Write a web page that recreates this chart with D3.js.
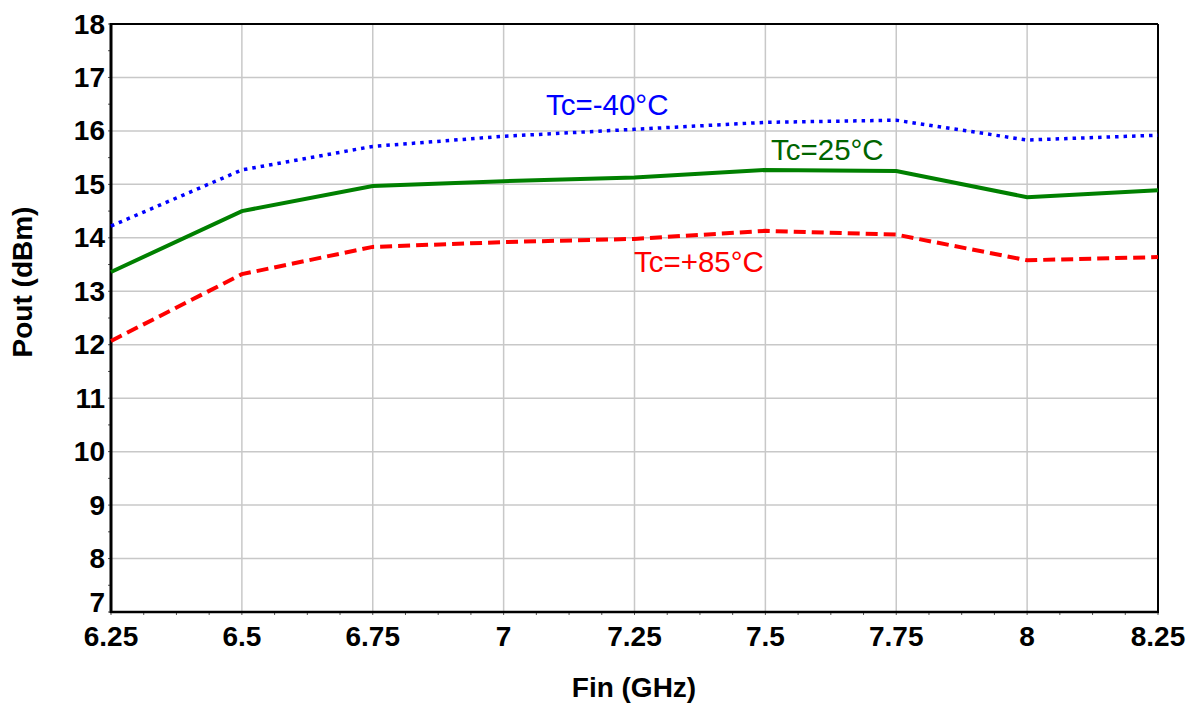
<!DOCTYPE html>
<html><head><meta charset="utf-8">
<script src="https://cdn.jsdelivr.net/npm/d3@7"></script>
<style>body{margin:0;background:#fff}svg{display:block}text{font-family:"Liberation Sans",Arial,sans-serif}</style>
</head><body>
<svg id="c" width="1195" height="706"></svg>
<script>
const freqs = [6.25, 6.5, 6.75, 7.0, 7.25, 7.5, 7.75, 8.0, 8.25];
const tcm40 = [14.22, 15.27, 15.71, 15.90, 16.03, 16.16, 16.20, 15.83, 15.92];
const tc25  = [13.36, 14.50, 14.97, 15.06, 15.13, 15.27, 15.25, 14.76, 14.89];
const tc85  = [12.07, 13.32, 13.83, 13.92, 13.98, 14.13, 14.06, 13.58, 13.64];
const xTicks = [6.25, 6.5, 6.75, 7, 7.25, 7.5, 7.75, 8, 8.25];
const xTickLabels = ["6.25","6.5","6.75","7","7.25","7.5","7.75","8","8.25"];
const yTicks = [7,8,9,10,11,12,13,14,15,16,17,18];
const seriesNames = ["Tc=-40°C", "Tc=25°C", "Tc=+85°C"];

const svg = d3.select("#c");
const L = 111, R = 1158, T = 24, B = 612;
const x = d3.scaleLinear().domain([6.25, 8.25]).range([L, R]);
const y = d3.scaleLinear().domain([7, 18]).range([B, T]);

// grid
const g = svg.append("g");
g.selectAll(".vg").data(xTicks.slice(1, -1)).join("line")
  .attr("x1", d => x(d)).attr("x2", d => x(d)).attr("y1", T).attr("y2", B)
  .attr("stroke", "#c8c8c8").attr("stroke-width", 1.5);
g.selectAll(".hg").data(yTicks.slice(1, -1)).join("line")
  .attr("y1", d => y(d)).attr("y2", d => y(d)).attr("x1", L).attr("x2", R)
  .attr("stroke", "#c8c8c8").attr("stroke-width", 1.5);

// minor ticks
const xMinor = d3.range(0, 33).map(i => 6.25 + i * 0.0625);
svg.append("g").selectAll("line").data(xMinor).join("line")
  .attr("x1", d => x(d)).attr("x2", d => x(d)).attr("y1", B).attr("y2", B + 3)
  .attr("stroke", "#555").attr("stroke-width", 1);
const yMinor = d3.range(0, 23).map(i => 7 + i * 0.5);
svg.append("g").selectAll("line").data(yMinor).join("line")
  .attr("y1", d => y(d)).attr("y2", d => y(d)).attr("x1", L - 3).attr("x2", L)
  .attr("stroke", "#555").attr("stroke-width", 1);

// border
svg.append("line").attr("x1", L).attr("x2", R).attr("y1", T).attr("y2", T).attr("stroke", "#000").attr("stroke-width", 2);
svg.append("line").attr("x1", R).attr("x2", R).attr("y1", T).attr("y2", B).attr("stroke", "#000").attr("stroke-width", 2);
svg.append("line").attr("x1", L - 1).attr("x2", R + 1).attr("y1", B).attr("y2", B).attr("stroke", "#000").attr("stroke-width", 2.5);
svg.append("line").attr("x1", L).attr("x2", L).attr("y1", T - 1).attr("y2", B + 1).attr("stroke", "#000").attr("stroke-width", 3);

// tick labels
svg.append("g").selectAll("text").data(xTicks).join("text")
  .attr("x", d => x(d)).attr("y", 646).attr("text-anchor", "middle")
  .attr("font-size", 28).attr("font-weight", "bold").attr("fill", "#000")
  .text((d, i) => xTickLabels[i]);
svg.append("g").selectAll("text").data(yTicks).join("text")
  .attr("x", 105).attr("y", d => d === 7 ? y(d) : y(d) + 9.5).attr("text-anchor", "end")
  .attr("font-size", 28).attr("font-weight", "bold").attr("fill", "#000")
  .text(d => d);

// axis titles
svg.append("text").attr("x", 634).attr("y", 697).attr("text-anchor", "middle")
  .attr("font-size", 28).attr("font-weight", "bold").attr("fill", "#000").text("Fin (GHz)");
svg.append("text").attr("transform", "translate(32,282) rotate(-90)").attr("text-anchor", "middle")
  .attr("font-size", 28).attr("font-weight", "bold").attr("fill", "#000").text("Pout (dBm)");

// lines
const line = d3.line().x((d, i) => x(freqs[i])).y(d => y(d));
svg.append("path").datum(tcm40).attr("d", line).attr("fill", "none")
  .attr("stroke", "#0000ff").attr("stroke-width", 3.5).attr("stroke-dasharray", "3.5 5");
svg.append("path").datum(tc25).attr("d", line).attr("fill", "none")
  .attr("stroke", "#008000").attr("stroke-width", 4);
svg.append("path").datum(tc85).attr("d", line).attr("fill", "none")
  .attr("stroke", "#ff0000").attr("stroke-width", 4).attr("stroke-dasharray", "12 6");

// series labels
const labels = [
  {t: seriesNames[0], x: 546, y: 115, c: "#0000ff"},
  {t: seriesNames[1], x: 771, y: 160, c: "#006400"},
  {t: seriesNames[2], x: 634, y: 272, c: "#ff0000"}
];
svg.append("g").selectAll("text").data(labels).join("text")
  .attr("x", d => d.x).attr("y", d => d.y).attr("fill", d => d.c)
  .attr("font-size", 29.5).text(d => d.t);
</script>
</body></html>
